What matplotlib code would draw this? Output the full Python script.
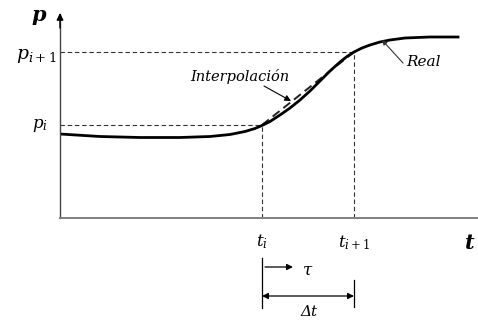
import matplotlib
matplotlib.use("Agg")
import matplotlib.pyplot as plt

plt.rcParams['mathtext.fontset'] = 'dejavuserif'
plt.rcParams['font.family'] = 'DejaVu Serif'

# curva real p(t)
t_real = [0.00, 0.40, 0.80, 1.20, 1.50, 1.70, 1.85, 1.95, 2.02, 2.10, 2.20,
          2.30, 2.40, 2.50, 2.60, 2.70, 2.80, 2.87, 2.94, 3.02, 3.10, 3.20,
          3.30, 3.45, 3.70, 3.98]
p_real = [0.84, 0.815, 0.805, 0.805, 0.815, 0.835, 0.865, 0.895, 0.925, 0.965, 1.03,
          1.10, 1.18, 1.27, 1.37, 1.47, 1.56, 1.615, 1.66, 1.70, 1.73, 1.76,
          1.78, 1.80, 1.81, 1.81]

# instantes y presiones del intervalo
t_i, t_i1 = 2.02, 2.94
p_i, p_i1 = 0.93, 1.66

# interpolacion lineal entre los dos extremos
t_interp = [t_i, t_i1]
p_interp = [p_i, p_i1]

fig = plt.figure(figsize=(4.78, 3.21), dpi=100)
ax = fig.add_axes([60 / 478, 103 / 321, 418 / 478, 204 / 321])
ax.set_xlim(0, 4.18)
ax.set_ylim(0, 2.04)
ax.set_xticks([])
ax.set_yticks([])
for s in ['top', 'right']:
    ax.spines[s].set_visible(False)
ax.spines['bottom'].set_color('#808080')
ax.spines['bottom'].set_linewidth(1.4)
ax.spines['left'].set_color('#444444')
ax.spines['left'].set_linewidth(1.0)

# flecha del eje p
ax.annotate('', xy=(0, 2.05), xytext=(0, 1.9),
            arrowprops=dict(arrowstyle='-|>', color='black', lw=1.0,
                            mutation_scale=10, shrinkA=0, shrinkB=0),
            annotation_clip=False)

# guias discontinuas
dash = dict(color='#333333', lw=0.8, dashes=(4, 2.5))
ax.plot([0, t_i], [p_i, p_i], **dash)
ax.plot([0, t_i1], [p_i1, p_i1], **dash)
ax.plot([t_i, t_i], [0, p_i], **dash)
ax.plot([t_i1, t_i1], [0, p_i1], **dash)

ax.plot(t_interp, p_interp, color='#222222', lw=1.4, dashes=(4.5, 2.5))
ax.plot(t_real, p_real, color='black', lw=2.0, solid_joinstyle='round')

# etiquetas de los ejes
ax.text(-0.21, 2.03, 'p', fontsize=15, fontweight='bold', fontstyle='italic',
        ha='center', va='center', clip_on=False)
ax.text(4.10, -0.25, 't', fontsize=15, fontweight='bold', fontstyle='italic',
        ha='center', va='center', clip_on=False)
ax.text(-0.03, 1.62, r'$p_{i+1}$', fontsize=13.5, ha='right', va='center', clip_on=False)
ax.text(-0.12, 0.92, r'$p_{i}$', fontsize=12, ha='right', va='center', clip_on=False)
ax.text(t_i, -0.24, r'$t_{i}$', fontsize=12, ha='center', va='center', clip_on=False)
ax.text(t_i1, -0.25, r'$t_{i+1}$', fontsize=12, ha='center', va='center', clip_on=False)

# anotaciones de las curvas
ax.text(1.30, 1.42, 'Interpolación', fontsize=10.5, fontstyle='italic',
        ha='left', va='center')
ax.annotate('', xy=(2.31, 1.17), xytext=(2.04, 1.32),
            arrowprops=dict(arrowstyle='-|>', color='black', lw=0.8,
                            mutation_scale=9, shrinkA=0, shrinkB=0))
ax.text(3.46, 1.56, 'Real', fontsize=11, fontstyle='italic', ha='left', va='center')
ax.annotate('', xy=(3.22, 1.78), xytext=(3.43, 1.55),
            arrowprops=dict(arrowstyle='-|>', color='#333333', lw=0.8,
                            mutation_scale=7, shrinkA=0, shrinkB=0))

# intervalo de tiempo debajo del eje
ax.plot([t_i, t_i], [-0.40, -0.90], color='black', lw=0.9, clip_on=False)
ax.plot([t_i1, t_i1], [-0.62, -0.89], color='black', lw=0.9, clip_on=False)
ax.annotate('', xy=(2.33, -0.49), xytext=(2.05, -0.49),
            arrowprops=dict(arrowstyle='-|>', color='black', lw=0.9,
                            mutation_scale=9, shrinkA=0, shrinkB=0),
            annotation_clip=False)
ax.text(2.48, -0.52, r'$\tau$', fontsize=12, ha='center', va='center', clip_on=False)
ax.annotate('', xy=(t_i1, -0.78), xytext=(t_i, -0.78),
            arrowprops=dict(arrowstyle='<|-|>', color='black', lw=0.9,
                            mutation_scale=9, shrinkA=0, shrinkB=0),
            annotation_clip=False)
ax.text(2.49, -0.94, 'Δt', fontsize=11, fontstyle='italic', ha='center',
        va='center', clip_on=False)

fig.savefig('out.png', dpi=100)
